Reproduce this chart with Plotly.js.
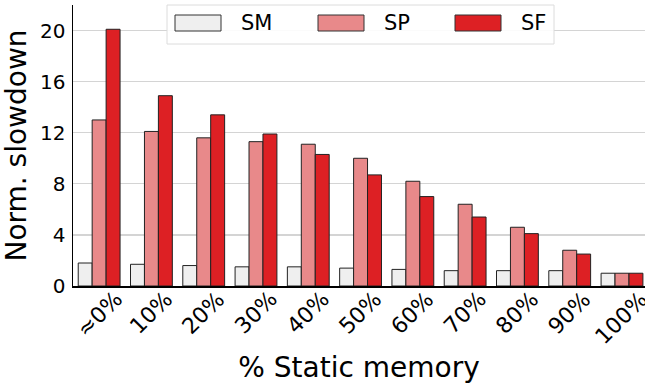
<!DOCTYPE html>
<html>
<head>
<meta charset="utf-8">
<script src="https://cdn.plot.ly/plotly-3.0.1.min.js"></script>
<style>html,body{margin:0;padding:0;background:#fff;}#chart{width:645px;height:384px;}</style>
</head>
<body>
<div id="chart"></div>
<script>
const categories = ["≈0%", "10%", "20%", "30%", "40%", "50%", "60%", "70%", "80%", "90%", "100%"];
const seriesNames = ["SM", "SP", "SF"];
const smValues = [1.8, 1.7, 1.6, 1.5, 1.5, 1.4, 1.3, 1.2, 1.2, 1.2, 1.0];
const spValues = [13.0, 12.1, 11.6, 11.3, 11.1, 10.0, 8.2, 6.4, 4.6, 2.8, 1.0];
const sfValues = [20.1, 14.9, 13.4, 11.9, 10.3, 8.7, 7.0, 5.4, 4.1, 2.5, 1.0];
const yTicks = [0, 4, 8, 12, 16, 20];

const colors = ["#efefef", "#e8898a", "#dd2024"];
const seriesValues = [smValues, spValues, sfValues];
const FONT = "DejaVu Sans, sans-serif";

const traces = seriesNames.map((n, i) => ({
  type: "bar", name: n, x: categories, y: seriesValues[i],
  marker: {color: colors[i], line: {color: "#222", width: 1}},
  showlegend: false, hoverinfo: "skip"
}));

// plot area in pixels
const L = 73, T = 5, W = 572, H = 281;
const px = v => (v - L) / W;
const py = v => (T + H - v) / H;

const shapes = [{
  type: "rect", xref: "paper", yref: "paper",
  x0: px(167), x1: px(554), y0: py(44), y1: py(5),
  fillcolor: "rgba(255,255,255,0.9)", line: {color: "#dcdcdc", width: 1}, layer: "above"
}];
const annotations = [];
const boxX = [175, 318, 455];
boxX.forEach((bx, i) => {
  shapes.push({type: "rect", xref: "paper", yref: "paper",
    x0: px(bx), x1: px(bx + 46), y0: py(31), y1: py(15),
    fillcolor: colors[i], line: {color: "#333", width: 1}, layer: "above"});
  annotations.push({xref: "paper", yref: "paper", x: px(bx + 64), y: py(23),
    xanchor: "left", yanchor: "middle", text: seriesNames[i], showarrow: false,
    font: {family: FONT, size: 21, color: "#000"}});
});
// category tick labels, rotated and centred under each group
categories.forEach(c => {
  annotations.push({xref: "x", yref: "paper", x: c, y: py(284),
    xanchor: "center", yanchor: "top", textangle: -45, text: c, showarrow: false,
    font: {family: FONT, size: 22, color: "#000"}});
});

const layout = {
  width: 645, height: 384,
  margin: {l: L, r: 645 - L - W, t: T, b: 384 - T - H},
  paper_bgcolor: "#fff", plot_bgcolor: "#fff",
  barmode: "group", bargap: 0.2, bargroupgap: 0,
  font: {family: FONT, color: "#000"},
  xaxis: {
    type: "category", range: [-0.5, 10.44], showticklabels: false,
    showline: true, linecolor: "#000", linewidth: 1.5,
    ticks: "", showgrid: false, zeroline: false, automargin: false,
    title: {text: "% Static memory", font: {size: 28, family: FONT}, standoff: 71}
  },
  yaxis: {
    range: [0, 22], tickvals: yTicks, ticktext: yTicks.map(String),
    tickfont: {size: 20, family: FONT}, showline: true, linecolor: "#000", linewidth: 1.5,
    ticks: "", showgrid: true, gridcolor: "#d4d4d4", gridwidth: 1.3, zeroline: false,
    automargin: false, ticklabelstandoff: 2,
    title: {text: "Norm. slowdown", font: {size: 28, family: FONT}, standoff: 10}
  },
  shapes: shapes, annotations: annotations, showlegend: false
};

Plotly.newPlot("chart", traces, layout, {displayModeBar: false, staticPlot: true});
</script>
</body>
</html>
